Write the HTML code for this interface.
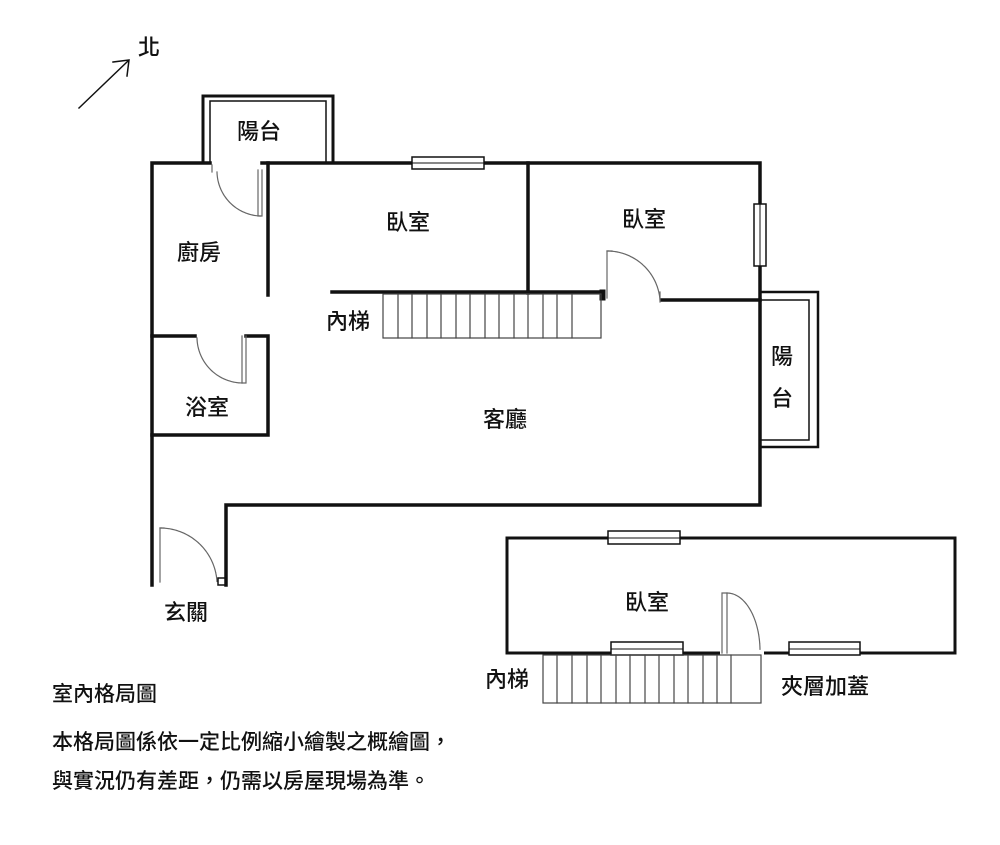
<!DOCTYPE html>
<html><head><meta charset="utf-8"><style>
html,body{margin:0;padding:0;background:#fff;}
svg{display:block;}
text{font-family:"Liberation Sans","Noto Sans CJK TC",sans-serif;fill:#111;font-size:22px;font-weight:500;}
</style></head><body>
<svg width="1000" height="845" viewBox="0 0 1000 845" xmlns="http://www.w3.org/2000/svg">
<g stroke="#111" fill="none" stroke-linecap="square">
<line x1="79" y1="108" x2="128" y2="61" stroke-width="1.5"/>
<polyline points="113,62 129,60 127,76" stroke-width="1.5"/>
<path d="M203,163 V96 H333 V163" stroke-width="3"/>
<path d="M210,163 V101 H326 V163" stroke-width="1.5"/>
<g stroke-width="3.5">
<path d="M152,585 V163 H210"/>
<path d="M262,163 H760 V505 H226 V585"/>
<line x1="268" y1="163" x2="268" y2="295"/>
<line x1="528" y1="163" x2="528" y2="293"/>
<line x1="332" y1="292" x2="603" y2="292"/>
<line x1="662" y1="300" x2="760" y2="300"/>
<path d="M152,336 H195"/>
<path d="M246,336 H268 V435 H152"/>
</g>
<path d="M760,292 H818 V447 H760" stroke-width="2.5"/>
<path d="M760,300 H809 V440 H760" stroke-width="1.5"/>
<rect x="412" y="157" width="72" height="12" fill="#fff" stroke-width="1.5"/>
<line x1="412" y1="163" x2="484" y2="163" stroke-width="1"/>
<rect x="754" y="204" width="12" height="62" fill="#fff" stroke-width="1.5"/>
<line x1="760" y1="204" x2="760" y2="266" stroke-width="1"/>
<g stroke="#666" stroke-width="1.2">
<path d="M212,165 V172"/>
<path d="M262,170 V216 H258 V170"/>
<path d="M217,172 A45,45 0 0 0 260,216" stroke-dasharray="2,1"/>
<path d="M246,336 V383 H242 V336"/>
<path d="M197,338 A46,46 0 0 0 242,383" stroke-dasharray="2,1"/>
<path d="M607,298 V251 H612"/>
<path d="M607,251 A53,53 0 0 1 660,300" stroke-dasharray="2,1"/>
<path d="M660,292 V302"/>
<path d="M160,582 V528 H164"/>
<path d="M160,528 A57,57 0 0 1 217,582" stroke-dasharray="2,1"/>
</g>
<rect x="218" y="578" width="8" height="7" stroke-width="1.5"/>
<rect x="600" y="290" width="5" height="10" fill="#111" stroke-width="1"/>
<rect x="383" y="294" width="218" height="44" stroke-width="1.2" stroke="#444"/>
<g stroke="#444" stroke-width="1.2">
<line x1="398" y1="294" x2="398" y2="338"/><line x1="412" y1="294" x2="412" y2="338"/>
<line x1="427" y1="294" x2="427" y2="338"/><line x1="441" y1="294" x2="441" y2="338"/>
<line x1="456" y1="294" x2="456" y2="338"/><line x1="470" y1="294" x2="470" y2="338"/>
<line x1="485" y1="294" x2="485" y2="338"/><line x1="499" y1="294" x2="499" y2="338"/>
<line x1="514" y1="294" x2="514" y2="338"/><line x1="528" y1="294" x2="528" y2="338"/>
<line x1="543" y1="294" x2="543" y2="338"/><line x1="557" y1="294" x2="557" y2="338"/>
<line x1="572" y1="294" x2="572" y2="338"/>
</g>
<rect x="507" y="538" width="448" height="115" stroke-width="3"/>
<rect x="608" y="531" width="72" height="13" fill="#fff" stroke-width="1.5"/>
<line x1="608" y1="538" x2="680" y2="538" stroke-width="1"/>
<rect x="611" y="642" width="72" height="13" fill="#fff" stroke-width="1.5"/>
<line x1="611" y1="649" x2="683" y2="649" stroke-width="1"/>
<rect x="789" y="642" width="71" height="13" fill="#fff" stroke-width="1.5"/>
<line x1="789" y1="649" x2="860" y2="649" stroke-width="1"/>
<line x1="722" y1="653" x2="762" y2="653" stroke="#fff" stroke-width="4"/>
<g stroke="#666" stroke-width="1.2">
<path d="M722,653 V593 H727 V653"/>
<path d="M727,593 A33,58 0 0 1 760,650" stroke-dasharray="2,1"/>
</g>
<rect x="543" y="655" width="218" height="48" stroke="#444" stroke-width="1.2"/>
<g stroke="#444" stroke-width="1.2">
<line x1="557" y1="655" x2="557" y2="703"/><line x1="572" y1="655" x2="572" y2="703"/>
<line x1="587" y1="655" x2="587" y2="703"/><line x1="601" y1="655" x2="601" y2="703"/>
<line x1="616" y1="655" x2="616" y2="703"/><line x1="630" y1="655" x2="630" y2="703"/>
<line x1="645" y1="655" x2="645" y2="703"/><line x1="659" y1="655" x2="659" y2="703"/>
<line x1="674" y1="655" x2="674" y2="703"/><line x1="688" y1="655" x2="688" y2="703"/>
<line x1="703" y1="655" x2="703" y2="703"/><line x1="717" y1="655" x2="717" y2="703"/>
<line x1="731" y1="655" x2="731" y2="703"/>
</g>
</g>
<rect x="543" y="704" width="220" height="10" fill="#fff"/>
<text x="138" y="55">北</text>
<text x="237" y="139">陽台</text>
<text x="386" y="230">臥室</text>
<text x="622" y="227">臥室</text>
<text x="177" y="260">廚房</text>
<text x="326" y="329">內梯</text>
<text x="185" y="415">浴室</text>
<text x="483" y="427">客廳</text>
<text x="771" y="364">陽</text>
<text x="771" y="406">台</text>
<text x="164" y="620">玄關</text>
<text x="625" y="610">臥室</text>
<text x="485" y="687">內梯</text>
<text x="781" y="694">夾層加蓋</text>
<text x="52" y="701" style="font-size:21px">室內格局圖</text>
<text x="52" y="749" style="font-size:21px">本格局圖係依一定比例縮小繪製之概繪圖，</text>
<text x="52" y="788" style="font-size:21px">與實況仍有差距，仍需以房屋現場為準。</text>
</svg>
</body></html>
